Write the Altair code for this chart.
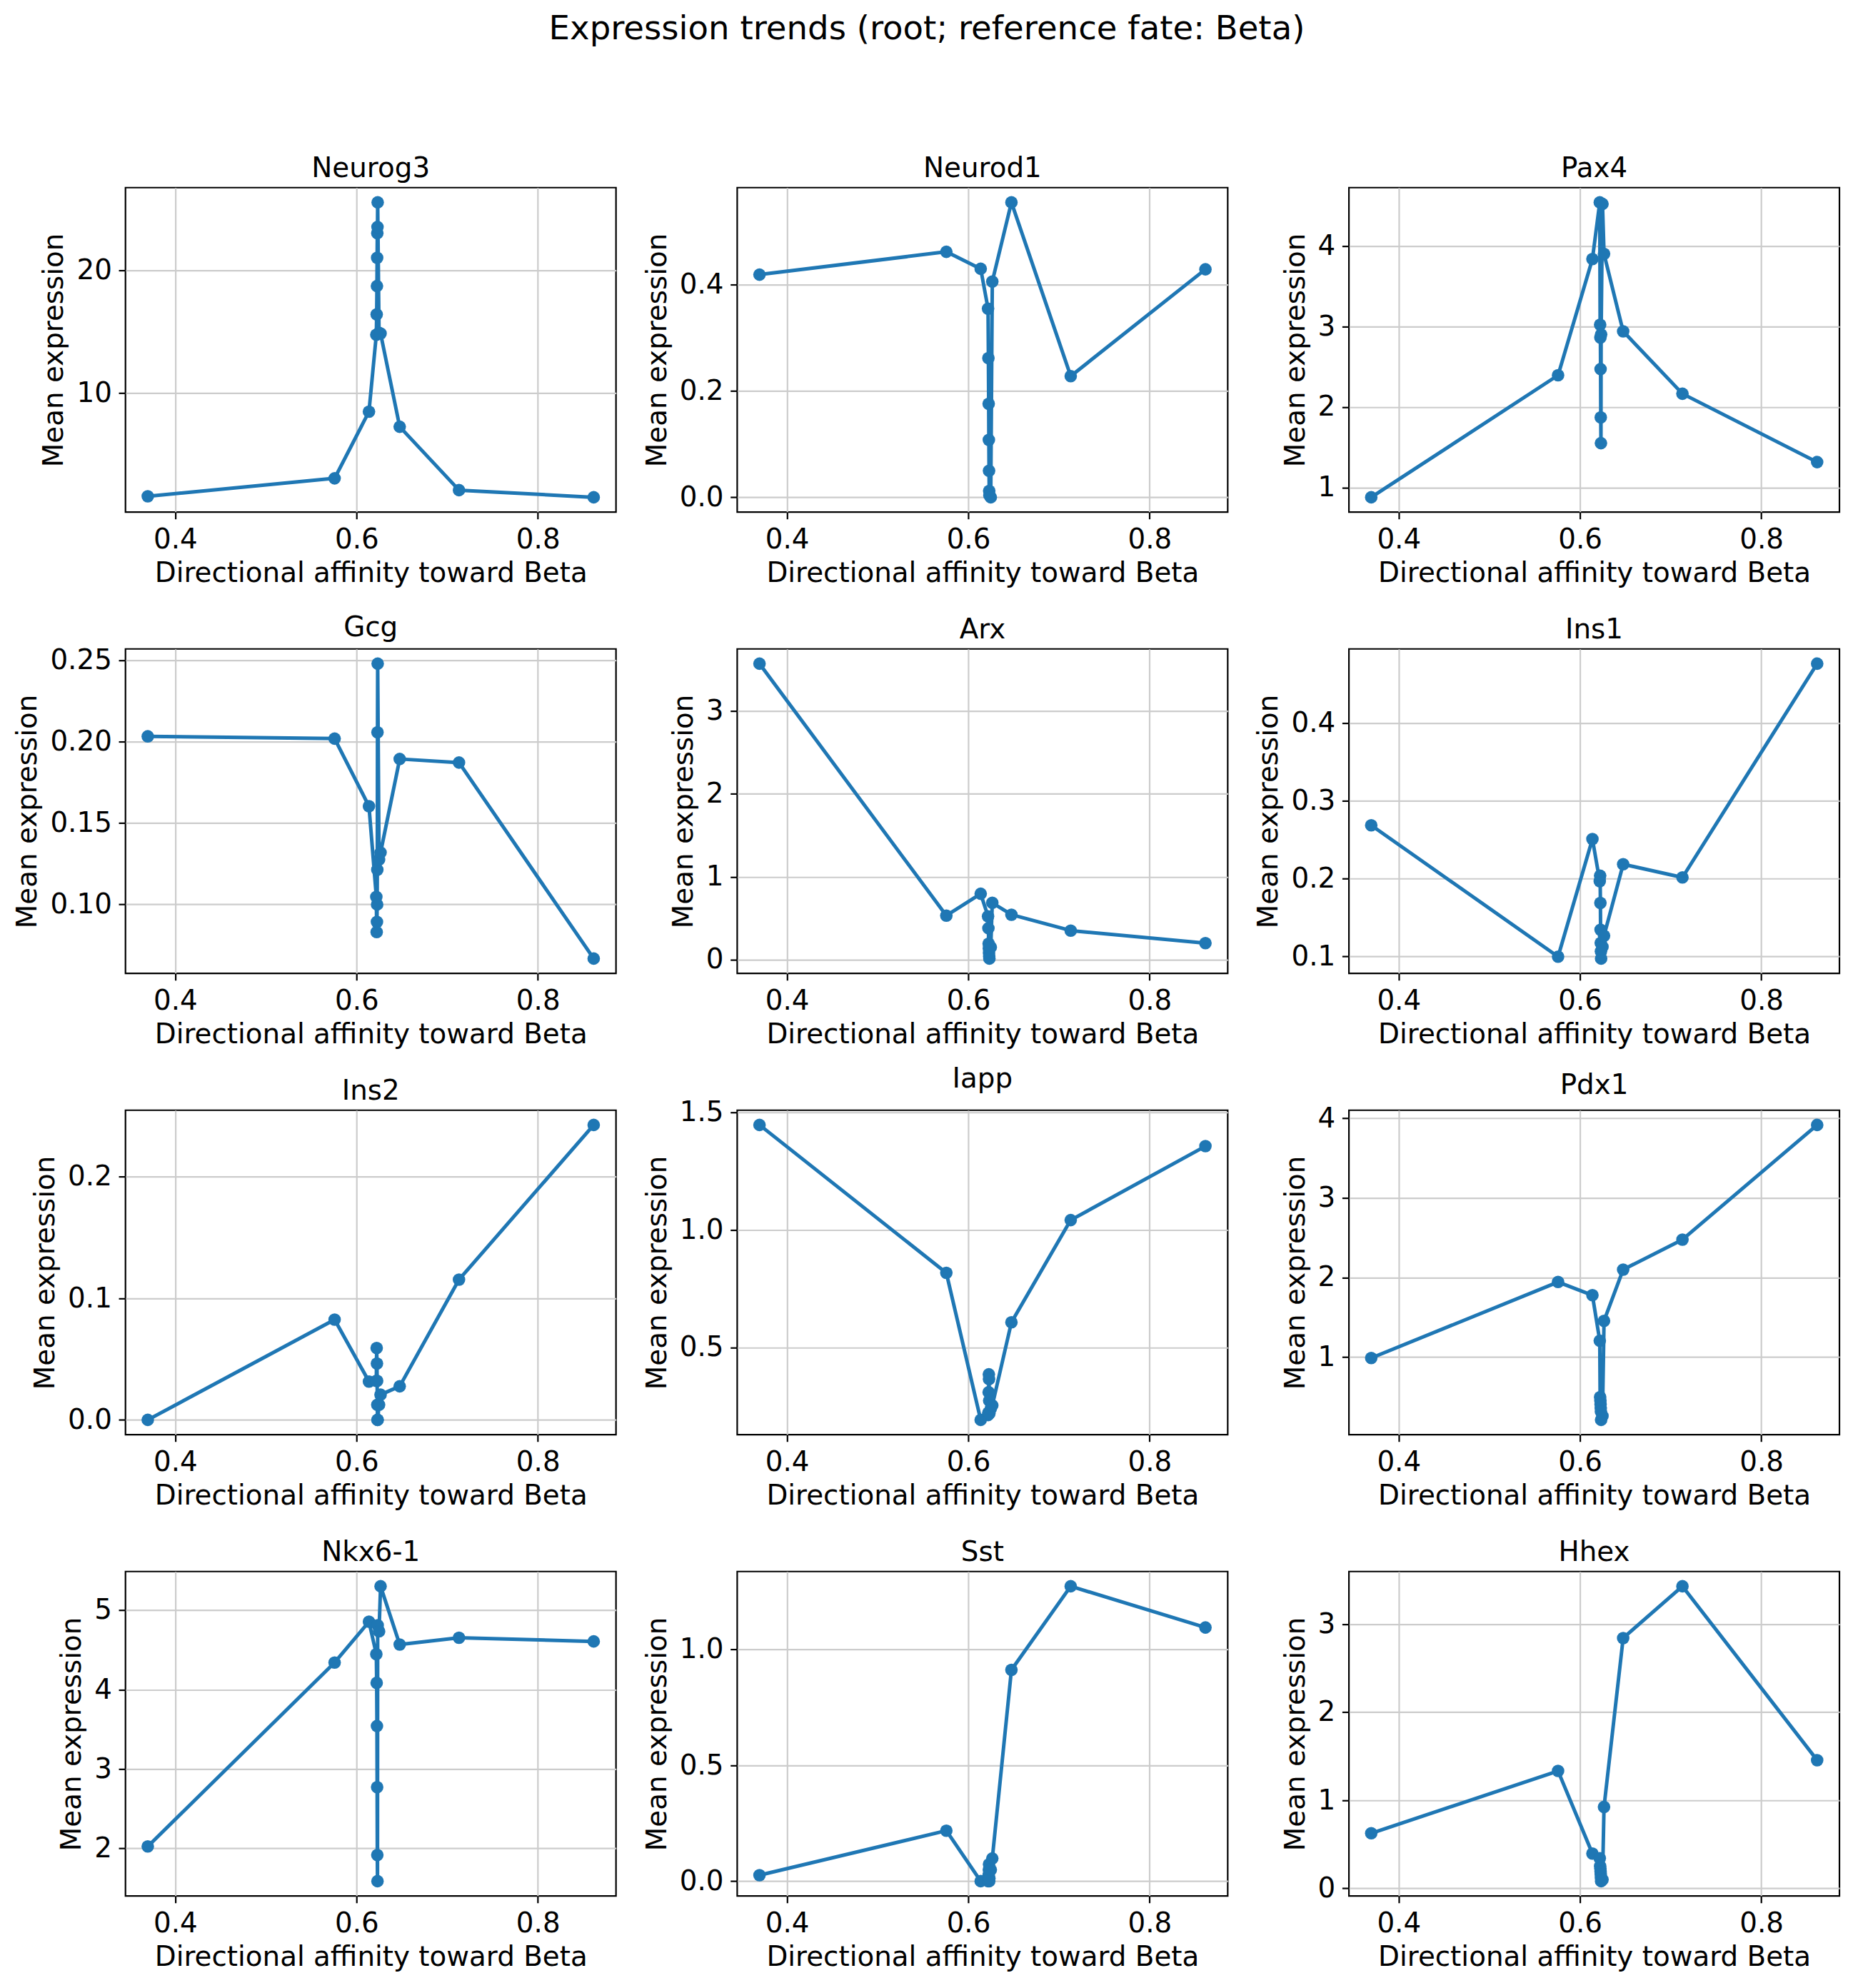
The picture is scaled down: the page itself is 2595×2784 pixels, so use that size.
import altair as alt
import pandas as pd

# Mean directional affinity toward Beta for each pseudotime bin (shared by all genes)
affinity = [0.3697, 0.5758, 0.6137, 0.6218, 0.6222, 0.6225, 0.6227, 0.6229,
            0.6231, 0.6233, 0.6248, 0.6265, 0.6476, 0.7130, 0.8616]

# Mean expression per bin, one list per gene
neurog3 = [1.62, 3.08, 8.5, 14.75, 16.4, 18.7, 21.0, 23.0, 23.5, 25.5, 14.9, 14.85, 7.27, 2.12, 1.54]
neurod1 = [0.419, 0.462, 0.430, 0.355, 0.262, 0.176, 0.108, 0.050, 0.012, 0.004, 0.0, 0.406, 0.555, 0.228, 0.429]
pax4 = [0.878, 2.393, 3.836, 4.54, 3.02, 2.86, 2.47, 1.87, 1.55, 2.9, 4.52, 3.90, 2.938, 2.164, 1.315]
gcg = [0.2032, 0.2018, 0.1603, 0.1047, 0.0831, 0.0893, 0.1000, 0.1213, 0.2057, 0.2478, 0.1275, 0.1319, 0.1893, 0.1871, 0.0668]
arx = [3.574, 0.531, 0.795, 0.522, 0.379, 0.192, 0.135, 0.077, 0.034, 0.012, 0.15, 0.686, 0.542, 0.350, 0.198]
ins1 = [0.2685, 0.0994, 0.2509, 0.1965, 0.2036, 0.1686, 0.134, 0.117, 0.1062, 0.0969, 0.112, 0.1263, 0.2184, 0.2014, 0.4767]
ins2 = [0.0, 0.0824, 0.0315, 0.0321, 0.0591, 0.0463, 0.0321, 0.0124, 0.0, 0.0, 0.0124, 0.0207, 0.0276, 0.1153, 0.2424]
iapp = [1.445, 0.8167, 0.1925, 0.213, 0.223, 0.31, 0.386, 0.366, 0.274, 0.22, 0.24, 0.254, 0.607, 1.041, 1.355]
pdx1 = [0.988, 1.943, 1.777, 1.205, 0.497, 0.452, 0.407, 0.36, 0.316, 0.211, 0.26, 1.455, 2.099, 2.476, 3.916]
nkx6_1 = [2.024, 4.341, 4.855, 4.447, 4.085, 3.541, 2.77, 1.915, 1.586, 4.81, 4.734, 5.302, 4.568, 4.653, 4.607]
sst = [0.026, 0.218, 0.0, 0.0, 0.005, 0.026, 0.049, 0.073, 0.0, 0.012, 0.049, 0.098, 0.912, 1.273, 1.095]
hhex = [0.626, 1.333, 0.395, 0.343, 0.253, 0.226, 0.19, 0.158, 0.117, 0.082, 0.10, 0.925, 2.842, 3.43, 1.455]

gene_names = ["Neurog3", "Neurod1", "Pax4", "Gcg", "Arx", "Ins1",
              "Ins2", "Iapp", "Pdx1", "Nkx6-1", "Sst", "Hhex"]
gene_values = [neurog3, neurod1, pax4, gcg, arx, ins1,
               ins2, iapp, pdx1, nkx6_1, sst, hhex]
y_ticks = [[10, 20], [0.0, 0.2, 0.4], [1, 2, 3, 4], [0.10, 0.15, 0.20, 0.25],
           [0, 1, 2, 3], [0.1, 0.2, 0.3, 0.4], [0.0, 0.1, 0.2], [0.5, 1.0, 1.5],
           [1, 2, 3, 4], [2, 3, 4, 5], [0.0, 0.5, 1.0], [0, 1, 2, 3]]
y_formats = [".0f", ".1f", ".0f", ".2f", ".0f", ".1f",
             ".1f", ".1f", ".0f", ".0f", ".1f", ".0f"]
x_ticks = [0.4, 0.6, 0.8]

BLUE = "#1f77b4"
FONT = "DejaVu Sans"


def padded(vals, frac=0.05):
    lo, hi = min(vals), max(vals)
    m = (hi - lo) * frac
    return [lo - m, hi + m]


x_domain = padded(affinity)


def panel(name, values, ticks, fmt):
    df = pd.DataFrame({"affinity": affinity, "expr": values,
                       "step": list(range(len(values)))})
    base = alt.Chart(df).encode(
        x=alt.X("affinity:Q",
                scale=alt.Scale(domain=x_domain, nice=False, zero=False),
                axis=alt.Axis(values=x_ticks, format=".1f", titlePadding=8,
                              title="Directional affinity toward Beta")),
        y=alt.Y("expr:Q",
                scale=alt.Scale(domain=padded(values), nice=False, zero=False),
                axis=alt.Axis(values=ticks, format=fmt, titlePadding=11,
                              title="Mean expression")),
        order=alt.Order("step:Q"),
    )
    line = base.mark_line(color=BLUE, strokeWidth=5, strokeJoin="round")
    dots = base.mark_point(filled=True, size=310, color=BLUE, opacity=1)
    return (line + dots).properties(
        width=688, height=455,
        title=alt.TitleParams(name, fontSize=38.9, font=FONT, fontWeight="normal",
                              color="black", anchor="middle", frame="group",
                              baseline="alphabetic", offset=-24),
    )


panels = [panel(n, v, t, f) for n, v, t, f in zip(gene_names, gene_values, y_ticks, y_formats)]

chart = alt.concat(
    *panels, columns=3, spacing=alt.RowColnumber(row=192, column=170), bounds="flush"
).properties(
    title=alt.TitleParams("Expression trends (root; reference fate: Beta)",
                          fontSize=46.7, font=FONT, fontWeight="normal",
                          color="black", anchor="middle", baseline="alphabetic",
                          offset=114),
    padding={"left": 18, "top": 16, "right": 17, "bottom": 20},
    background="white",
).configure_view(
    stroke="black", strokeWidth=2.2
).configure_axis(
    labelFont=FONT, labelFontSize=38.9, labelColor="black",
    titleFont=FONT, titleFontSize=38.9, titleFontWeight="normal", titleColor="black",
    tickColor="black", tickSize=9.7, tickWidth=2.2, labelPadding=9.7,
    domain=False, grid=True, gridColor="#cccccc", gridWidth=2.2,
    labelFlush=False, labelOverlap=False,
)

chart.save("out.html", embed_options={"renderer": "svg", "actions": False})
